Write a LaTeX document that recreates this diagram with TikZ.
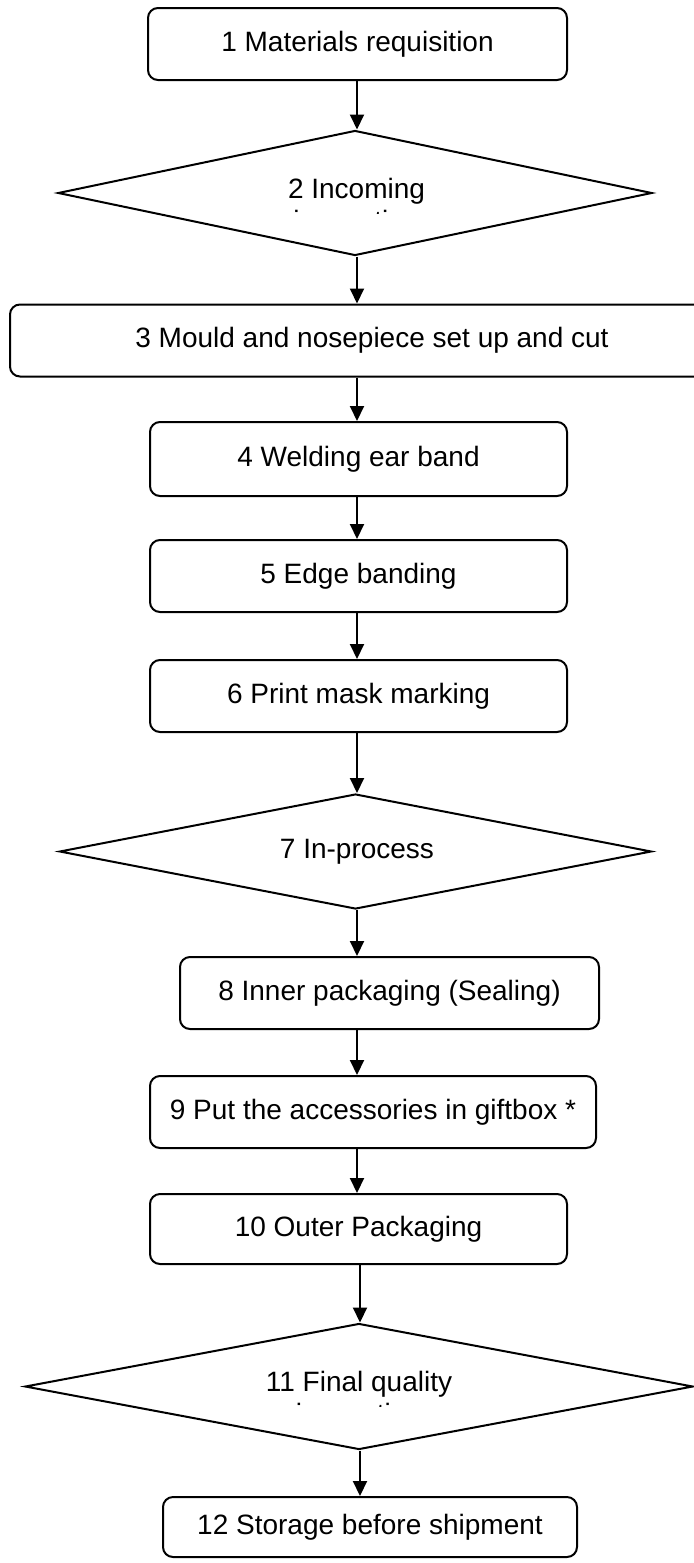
\documentclass[tikz,border=0pt]{standalone}
\usepackage{fontspec}
\setmainfont{Liberation Sans}
\usetikzlibrary{shapes.geometric,arrows.meta}
\begin{document}
\begin{tikzpicture}[x=0.5pt,y=-0.5pt,
  txt/.style={font=\fontsize{14}{16.5}\selectfont},
  box/.style={draw,line width=1pt,rounded corners=5pt,inner sep=0pt,txt},
  dia/.style={draw,diamond,line width=1pt,inner sep=0pt},
  lbl/.style={inner sep=0pt,txt,anchor=base},
  arr/.style={line width=1pt,-{Triangle[length=7.5pt,width=7pt]}}]
\useasboundingbox (0,0) rectangle (694,1563);
\clip (0,0) rectangle (694,1563);
\coordinate (ax) at (357,0);
\coordinate (ay) at (360,0);
% nodes
\node[box,minimum width=209.5pt,minimum height=36pt] (b1) at (357.5,44) {1 Materials requisition};
\node[dia,minimum width=297pt,minimum height=62.5pt] (d2) at (355,193) {};
\node[lbl] (t2) at (356.5,198) {2 Incoming};
\begin{scope}
  \clip (0,150) rectangle (694,213);
  \node[lbl] (t2b) at (356.5,230) {inspection};
\end{scope}
\node[box,minimum width=362pt,minimum height=36pt] (b3) at (372,340.5) {3 Mould and nosepiece set up and cut};
\node[box,minimum width=208.5pt,minimum height=37pt] (b4) at (358.5,459) {4 Welding ear band};
\node[box,minimum width=208.5pt,minimum height=36pt] (b5) at (358.5,576) {5 Edge banding};
\node[box,minimum width=208.5pt,minimum height=36pt] (b6) at (358.5,696) {6 Print mask marking};
\node[dia,minimum width=296pt,minimum height=57.5pt] (d7) at (355.5,851.5) {};
\node[txt,inner sep=0pt] (t7) at (357,851.5) {7 In-process};
\node[box,minimum width=209.5pt,minimum height=36pt] (b8) at (389.5,993) {8 Inner packaging (Sealing)};
\node[box,minimum width=223pt,minimum height=36pt] (b9) at (373,1112) {9 Put the accessories in giftbox *};
\node[box,minimum width=208.5pt,minimum height=35pt] (b10) at (358.5,1229) {10 Outer Packaging};
\node[dia,minimum width=334pt,minimum height=63pt] (d11) at (359,1386.5) {};
\node[lbl] (t11) at (359,1391) {11 Final quality};
\begin{scope}
  \clip (0,1340) rectangle (694,1406);
  \node[lbl] (t11b) at (359,1423) {inspection};
\end{scope}
\node[box,minimum width=207pt,minimum height=30pt] (b12) at (370,1527) {12 Storage before shipment};
% connectors
\draw[arr] (b1.south -| ax) -- (d2.north -| ax);
\draw[arr] (d2.south -| ax) -- (b3.north -| ax);
\draw[arr] (b3.south -| ax) -- (b4.north -| ax);
\draw[arr] (b4.south -| ax) -- (b5.north -| ax);
\draw[arr] (b5.south -| ax) -- (b6.north -| ax);
\draw[arr] (b6.south -| ax) -- (d7.north -| ax);
\draw[arr] (d7.south -| ax) -- (b8.north -| ax);
\draw[arr] (b8.south -| ax) -- (b9.north -| ax);
\draw[arr] (b9.south -| ax) -- (b10.north -| ax);
\draw[arr] (b10.south -| ay) -- (d11.north -| ay);
\draw[arr] (d11.south -| ay) -- (b12.north -| ay);
\end{tikzpicture}
\end{document}
